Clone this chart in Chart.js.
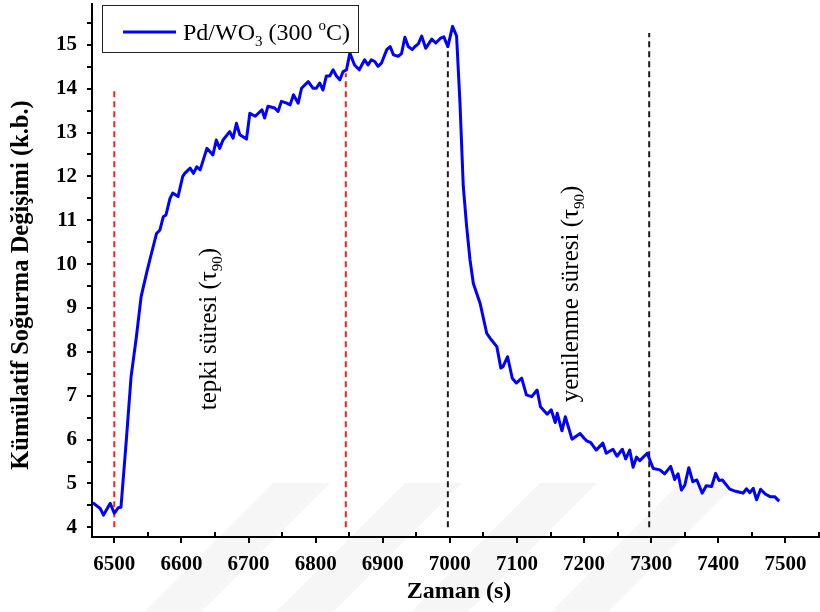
<!DOCTYPE html>
<html lang="tr">
<head>
  <meta charset="UTF-8" />
  <title>Kümülatif Soğurma Değişimi</title>
  <script src="https://cdn.jsdelivr.net/npm/chart.js"></script>
  <style>
    html, body {
      margin: 0;
      padding: 0;
      background: #fff;
    }
    #kutu {
      width: 820px;
      height: 612px;
    }
  </style>
</head>
<body>

<div id="kutu"><canvas id="grafikSogurma" width="820" height="612"></canvas></div>

<script>
  // Ölçüm: zaman (s) ve kümülatif soğurma değişimi (k.b.)
  const zaman = [
    6468, 6479, 6484, 6494, 6500, 6506, 6510, 6518, 6525, 6533,
    6540, 6548, 6553, 6563, 6568, 6573, 6577, 6583, 6587, 6595,
    6602, 6605, 6613, 6618, 6623, 6628, 6638, 6647, 6652, 6657,
    6662, 6672, 6677, 6682, 6687, 6697, 6702, 6710, 6720, 6724,
    6729, 6739, 6744, 6749, 6757, 6762, 6767, 6774, 6779, 6789,
    6796, 6801, 6806, 6811, 6816, 6821, 6826, 6831, 6836, 6841,
    6846, 6851, 6858, 6865, 6873, 6878, 6883, 6888, 6893, 6898,
    6906, 6911, 6916, 6923, 6928, 6933, 6938, 6944, 6948, 6953,
    6958, 6964, 6973, 6979, 6986, 6991, 6997, 7004, 7010, 7015,
    7020, 7025, 7030, 7035, 7045, 7055, 7062, 7070, 7076, 7079,
    7086, 7093, 7099, 7107, 7114, 7122, 7130, 7135, 7145, 7151,
    7157, 7160, 7167, 7172, 7182, 7194, 7200, 7204, 7210, 7218,
    7228, 7233, 7243, 7249, 7257, 7262, 7268, 7273, 7278, 7283,
    7294, 7303, 7313, 7320, 7329, 7335, 7340, 7345, 7350, 7356,
    7362, 7368, 7376, 7382, 7390, 7396, 7401, 7406, 7417, 7424,
    7432, 7437, 7442, 7447, 7452, 7457, 7463, 7470, 7477, 7484,
    7489, 7491
  ];
  const sogurma = [
    4.56, 4.43, 4.28, 4.55, 4.32, 4.45, 4.46, 6.0, 7.43, 8.35,
    9.26, 9.79, 10.1, 10.7, 10.78, 11.08, 11.12, 11.5, 11.62, 11.54,
    12.0, 12.07, 12.19, 12.07, 12.22, 12.15, 12.64, 12.49, 12.83, 12.64,
    12.83, 13.02, 12.87, 13.21, 12.95, 12.85, 13.44, 13.37, 13.52, 13.33,
    13.6, 13.56, 13.48, 13.71, 13.67, 13.63, 13.86, 13.67, 14.01, 14.16,
    14.01, 14.01, 14.13, 13.97, 14.29, 14.29, 14.43, 14.29, 14.2, 14.39,
    14.43, 14.81, 14.54, 14.43, 14.66, 14.54, 14.66, 14.62, 14.51, 14.58,
    14.89, 14.96, 14.77, 14.74, 14.8, 15.17, 14.96, 14.89, 14.96, 15.02,
    15.2, 14.92, 15.13, 15.04, 15.15, 15.18, 14.96, 15.42, 15.2, 13.7,
    11.77, 10.86, 10.1, 9.56, 9.11, 8.42, 8.27, 8.12, 7.63, 7.66,
    7.89, 7.40, 7.29, 7.40, 7.02, 6.98, 7.13, 6.75, 6.58, 6.68,
    6.39, 6.6, 6.2, 6.52, 6.01, 6.14, 6.03, 5.97, 5.93, 5.76,
    5.92, 5.69, 5.78, 5.62, 5.78, 5.56, 5.76, 5.37, 5.6, 5.52,
    5.69, 5.34, 5.31, 5.22, 5.39, 5.09, 5.22, 4.85, 4.96, 5.36,
    5.04, 5.08, 4.78, 4.95, 4.93, 5.23, 5.07, 5.08, 4.87, 4.83,
    4.8, 4.78, 4.88, 4.79, 4.89, 4.63, 4.87, 4.76, 4.70, 4.70,
    4.62, 4.60
  ];

  // Tepki (kırmızı) ve yenilenme (siyah) süre sınırları
  const sinirZaman = [6500, 6845, 6997, 7297];
  const sinirUst = [14.0, 14.35, 14.96, 15.27];
  const sinirAlt = [4.0, 4.0, 4.0, 4.0];

  const seriAdi = 'Pd/WO3 (300 °C)';
  const eksenX = { min: 6466.8, max: 7550, adim: 100 };
  const eksenY = { min: 3.78, max: 15.93, adim: 1 };

  const SERIF = '"Liberation Serif", "Times New Roman", serif';
  Chart.defaults.font.family = SERIF;
  Chart.defaults.color = '#000';

  const egri = zaman.map((t, i) => ({ x: t, y: sogurma[i] }));

  const sinirRenk = ['#ff2020', '#ff2020', '#1a1a1a', '#1a1a1a'];
  const sinirSetleri = sinirZaman.map((t, i) => ({
    data: [{ x: t, y: sinirAlt[i] }, { x: t, y: sinirUst[i] }],
    borderColor: sinirRenk[i],
    borderWidth: 2,
    borderDash: [6, 4],
    pointRadius: 0,
    showLine: true,
    fill: false
  }));

  // alt/üst indisli metin parçalarını yan yana yazar
  function parcaYaz(ctx, parcalar, x, y) {
    let px = x;
    parcalar.forEach(p => {
      ctx.font = `${p.kalin ? 'bold ' : ''}${p.boy}px ${SERIF}`;
      ctx.fillText(p.t, px, y + (p.dy || 0));
      px += ctx.measureText(p.t).width;
    });
    return px - x;
  }
  function parcaGenislik(ctx, parcalar) {
    let w = 0;
    parcalar.forEach(p => {
      ctx.font = `${p.kalin ? 'bold ' : ''}${p.boy}px ${SERIF}`;
      w += ctx.measureText(p.t).width;
    });
    return w;
  }
  function donukYaz(ctx, parcalar, cx, cy) {
    const w = parcaGenislik(ctx, parcalar);
    ctx.save();
    ctx.translate(cx, cy);
    ctx.rotate(-Math.PI / 2);
    parcaYaz(ctx, parcalar, -w / 2, 0);
    ctx.restore();
  }

  // Sayfa altındaki soluk çapraz filigran şeritleri
  const filigran = {
    id: 'filigran',
    beforeDraw(chart) {
      const { ctx, height } = chart;
      const ust = 483, egim = height - ust;
      ctx.save();
      ctx.fillStyle = 'rgba(0, 0, 0, 0.035)';
      [273, 405, 540, 680].forEach(sx => {
        ctx.beginPath();
        ctx.moveTo(sx, ust);
        ctx.lineTo(sx + 57, ust);
        ctx.lineTo(sx + 57 - egim, height);
        ctx.lineTo(sx - egim, height);
        ctx.closePath();
        ctx.fill();
      });
      ctx.restore();
    }
  };

  // Eksen çentikleri: x'te büyükler dışa, küçükler içe; y'de hepsi dışa
  const centikler = {
    id: 'centikler',
    afterDraw(chart) {
      const { ctx, chartArea: a, scales: { x, y } } = chart;
      ctx.save();
      ctx.strokeStyle = '#000';
      ctx.lineWidth = 2;
      ctx.beginPath();
      const xv = x.ticks.map(t => t.value);
      const xs = xv[1] - xv[0];
      xv.forEach(v => {
        const p = Math.round(x.getPixelForValue(v));
        ctx.moveTo(p, a.bottom); ctx.lineTo(p, a.bottom + 6);
      });
      for (let v = xv[0] - xs / 2; v <= x.max + 0.01; v += xs) {
        if (v < x.min) continue;
        const p = Math.round(x.getPixelForValue(v));
        ctx.moveTo(p, a.bottom); ctx.lineTo(p, a.bottom - 5);
      }
      const yv = y.ticks.map(t => t.value);
      const ys = yv[1] - yv[0];
      for (let v = yv[0] - ys / 2; v <= y.max + 0.01; v += ys / 2) {
        if (v < y.min) continue;
        const p = Math.round(y.getPixelForValue(v));
        ctx.moveTo(a.left, p); ctx.lineTo(a.left - 5, p);
      }
      ctx.stroke();
      ctx.restore();
    }
  };

  // Eksen başlıkları, dikey açıklamalar ve seri kutusu
  const yazilar = {
    id: 'yazilar',
    afterDraw(chart) {
      const { ctx, chartArea: a, scales: { x, y } } = chart;
      ctx.save();
      ctx.fillStyle = '#000';
      ctx.textBaseline = 'middle';

      donukYaz(ctx, [{ t: 'Kümülatif Soğurma Değişimi (k.b.)', boy: 24.5, kalin: true }], 22, 285);
      ctx.textAlign = 'center';
      ctx.font = `bold 24px ${SERIF}`;
      ctx.fillText('Zaman (s)', 459, 592);
      ctx.textAlign = 'left';

      ctx.textBaseline = 'alphabetic';
      const notlar = [
        { t: 6651.5, v: 8.52, yazi: 'tepki süresi ' },
        { t: 7190.6, v: 9.32, yazi: 'yenilenme süresi ' }
      ];
      notlar.forEach(n => {
        donukYaz(ctx, [
          { t: n.yazi + '(', boy: 25 },
          { t: 'τ', boy: 25 },
          { t: '90', boy: 15, dy: 6 },
          { t: ')', boy: 25 }
        ], x.getPixelForValue(n.t), y.getPixelForValue(n.v));
      });

      // seri kutusu
      const ds = chart.data.datasets[0];
      const kx = a.left + 10, ky = a.top + 1, kw = 256, kh = 47;
      ctx.fillStyle = '#fff';
      ctx.fillRect(kx, ky, kw, kh);
      ctx.strokeStyle = '#222';
      ctx.lineWidth = 1;
      ctx.strokeRect(kx + 0.5, ky + 0.5, kw, kh);
      ctx.strokeStyle = ds.borderColor;
      ctx.lineWidth = 3;
      ctx.beginPath();
      ctx.moveTo(kx + 21, ky + 27);
      ctx.lineTo(kx + 74, ky + 27);
      ctx.stroke();
      ctx.fillStyle = '#000';
      parcaYaz(ctx, [
        { t: 'Pd/WO', boy: 24 },
        { t: '3', boy: 15, dy: 6 },
        { t: ' (300 ', boy: 24 },
        { t: 'o', boy: 15, dy: -10 },
        { t: 'C)', boy: 24 }
      ], kx + 81, ky + 35);
      ctx.restore();
    }
  };

  new Chart(document.getElementById('grafikSogurma').getContext('2d'), {
    type: 'scatter',
    data: {
      datasets: [{
        label: seriAdi,
        data: egri,
        showLine: true,
        borderColor: '#0000ff',
        borderWidth: 3,
        borderJoinStyle: 'round',
        pointRadius: 0,
        tension: 0,
        fill: false
      }, ...sinirSetleri]
    },
    options: {
      responsive: false,
      animation: false,
      layout: { padding: { top: 4, right: 1, left: 0, bottom: 0 } },
      plugins: {
        legend: { display: false },
        tooltip: { enabled: false }
      },
      scales: {
        x: {
          type: 'linear',
          min: eksenX.min,
          max: eksenX.max,
          afterFit: s => {
            s.height = 75;
            s.paddingLeft = 0;
            s.paddingRight = 0;
          },
          ticks: {
            stepSize: eksenX.adim,
            includeBounds: false,
            padding: 15,
            maxRotation: 0,
            font: { size: 21, weight: 'bold' },
            callback: v => v
          },
          grid: { display: false, drawTicks: false },
          border: { display: true, color: '#000', width: 2 }
        },
        y: {
          type: 'linear',
          min: eksenY.min,
          max: eksenY.max,
          afterFit: s => {
            s.width = 92;
            s.paddingTop = 0;
            s.paddingBottom = 0;
          },
          ticks: {
            stepSize: eksenY.adim,
            includeBounds: false,
            padding: 15,
            font: { size: 21, weight: 'bold' }
          },
          grid: { display: false, drawTicks: false },
          border: { display: true, color: '#000', width: 2 }
        }
      }
    },
    plugins: [filigran, centikler, yazilar]
  });
</script>

</body>
</html>
